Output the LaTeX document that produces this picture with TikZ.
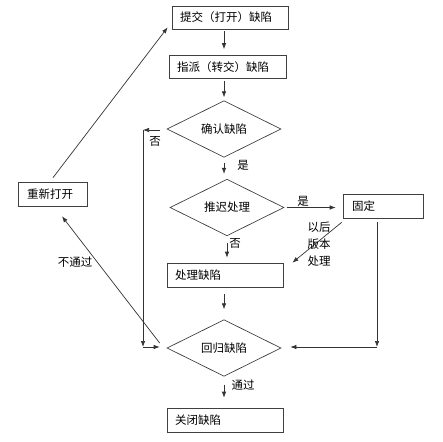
\documentclass[tikz,border=0pt]{standalone}
\usepackage{fontspec}
\setmainfont{Noto Sans CJK SC}
\usepackage{tikz}
\usetikzlibrary{shapes.geometric, arrows.meta, calc}
\tikzstyle{box}   = [rectangle, minimum height=23pt, text width=100pt, inner xsep=8pt, inner ysep=0pt, align=left, draw=black!75, line width=0.7pt]
\tikzstyle{judge} = [diamond, minimum width=114pt, minimum height=52pt, inner sep=0pt, draw=black!75, line width=0.7pt]
\tikzstyle{note}  = [inner sep=0pt]
\tikzstyle{arrow} = [line width=0.7pt, draw=black!80, ->, >={Latex[length=6pt,width=4.5pt]}]

\begin{document}
\begin{tikzpicture}[x=1pt, y=-1pt, every node/.style={font=\fontsize{11.5pt}{17pt}\selectfont}]
    \useasboundingbox (0,0) rectangle (443,441);

    \node (sub)     [box] at (230,17.5)                                            {提交（打开）缺陷};
    \node (assign)  [box, below of=sub, node distance=49.5pt, xshift=-2.5pt, text width=101pt] {指派（转交）缺陷};
    \node (confirm) [judge, below of=assign, node distance=62pt, xshift=-3.5pt]   {确认缺陷};
    \node (defer)   [judge, below of=confirm, node distance=78.5pt, xshift=3pt, minimum height=51pt] {推迟处理};
    \node (fix)     [box, below of=defer, node distance=67.5pt, xshift=-2pt, minimum height=24pt] {处理缺陷};
    \node (regress) [judge, below of=fix, node distance=73pt, xshift=-1pt]        {回归缺陷};
    \node (close)   [box, below of=regress, node distance=72pt, xshift=1pt, minimum height=24pt] {关闭缺陷};
    \node (fixed)   [box, right of=defer, node distance=156pt, yshift=1.5pt, text width=62pt, inner xsep=9pt, minimum height=24pt] {固定};
    \node (reopen)  [box, left of=defer, node distance=174.5pt, yshift=13.5pt, text width=51pt, inner xsep=9pt, minimum height=24pt] {重新打开};

    \coordinate (ltop) at (143,130);
    \coordinate (lbot) at (143,347);
    \coordinate (rbot) at (377,347);

    \draw [arrow, shorten <=2pt, shorten >=6pt]  (sub.south -| confirm) -- (assign.north -| confirm);
    \draw [arrow, shorten <=2pt, shorten >=3pt]  (assign.south -| confirm) -- (confirm.north);
    \draw [arrow, shorten <=5pt, shorten >=5pt]  (confirm.south) -- (defer.north -| confirm);
    \draw [arrow, shorten <=7pt, shorten >=5pt]  (defer.south) -- (fix.north -| defer);
    \draw [arrow, shorten <=7pt, shorten >=10pt] (fix.south -| regress) -- (regress.north);
    \draw [arrow, shorten <=8pt, shorten >=10pt] (regress.south) -- (close.north -| regress);

    \draw [arrow, shorten <=7pt] (confirm.west |- ltop) -- (ltop);
    \draw [arrow] (ltop) -- (lbot);
    \draw [arrow, shorten >=7pt] (lbot) -- (regress.west |- lbot);

    \draw [arrow, shorten <=3pt, shorten >=7pt] (defer.east) -- (fixed.west |- defer.east);
    \draw [arrow, shorten <=4pt] (fixed.south -| rbot) -- (rbot);
    \draw [arrow, shorten >=9pt] (rbot) -- (regress.east |- rbot);
    \draw [arrow] ([shift={(-1,4)}]fixed.south west) -- ([shift={(9,0)}]fix.north east);

    \draw [arrow] ([shift={(-7,-5)}]regress.west) -- ([shift={(9.5,10)}]reopen.south);
    \draw [arrow] ([shift={(0.5,-4)}]reopen.north) -- ([shift={(-4,-2)}]sub.south west);

    \node (no1)   [note] at (155,141) {否};
    \node (yes1)  [note] at (243,165) {是};
    \node (yes2)  [note] at (303,201) {是};
    \node (no2)   [note] at (235,243) {否};
    \node (later) [note, align=center] at (319,244) {以后\\版本\\处理};
    \node (fail)  [note] at (75,262)  {不通过};
    \node (pass)  [note] at (243,385) {通过};
\end{tikzpicture}
\end{document}
